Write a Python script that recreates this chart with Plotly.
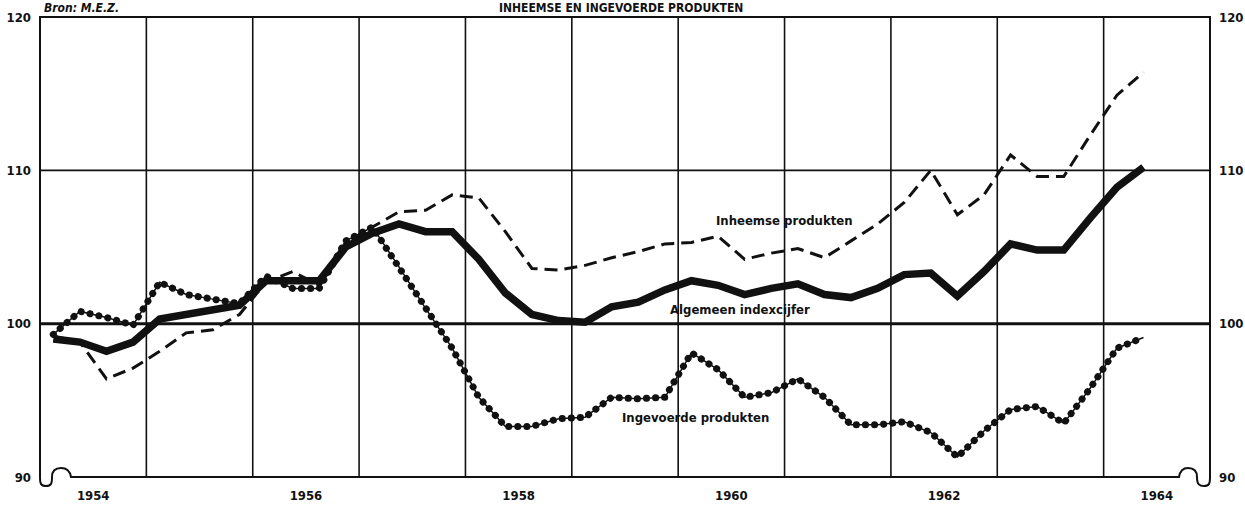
import plotly.graph_objects as go

# Quarterly index figures, 1954 Q1 - 1964 Q2
periods = [(y, q) for y in range(1954, 1965) for q in (1, 2, 3, 4)][:42]

algemeen = [99.0, 98.8, 98.2, 98.8,
            100.3, 100.6, 100.8, 101.2,
            102.8, 102.8, 102.8, 105.0,
            105.9, 106.5, 106.0, 106.0,
            104.2, 102.0, 100.6, 100.2,
            100.1, 101.1, 101.4, 102.2,
            102.8, 102.5, 101.9, 102.3,
            102.6, 101.9, 101.7, 102.3,
            103.2, 103.3, 101.8, 103.4,
            105.2, 104.8, 104.8, 106.9,
            108.9, 110.2]

inheemse = [99.2, 98.8, 96.4, 97.1,
            98.2, 99.4, 99.6, 100.6,
            102.7, 103.4, 102.5, 105.3,
            106.3, 107.3, 107.4, 108.4,
            108.2, 106.0, 103.6, 103.5,
            103.8, 104.3, 104.7, 105.2,
            105.3, 105.7, 104.2, 104.6,
            104.9, 104.3, 105.4, 106.5,
            107.9, 110.0, 107.1, 108.4,
            111.0, 109.6, 109.6, 112.3,
            114.9, 116.4]

ingevoerde = [99.3, 100.8, 100.4, 99.9,
              102.7, 101.9, 101.6, 101.3,
              103.1, 102.3, 102.3, 105.4,
              106.3, 103.7, 101.0, 98.4,
              95.2, 93.3, 93.3, 93.8,
              93.9, 95.2, 95.1, 95.2,
              98.1, 97.0, 95.2, 95.5,
              96.4, 95.2, 93.4, 93.4,
              93.6, 92.9, 91.3, 93.0,
              94.4, 94.6, 93.5, 95.8,
              98.4, 99.1]

year_labels = [1954, 1956, 1958, 1960, 1962, 1964]
grid_years = list(range(1955, 1965))
y_ticks = [90, 100, 110, 120]

# quarter midpoints on a continuous year axis
x = [y + (q - 0.5) / 4 for y, q in periods]

FONT = "Liberation Sans Narrow, DejaVu Sans Condensed, Roboto Condensed, Arial Narrow, sans-serif"
INK = "#111111"

W, H = 1245, 507
L, R, T, B = 40, 35, 17, 30
PW, PH = W - L - R, H - T - B


def px(xp):
    return (xp - L) / PW


def py(yp):
    return (H - B - yp) / PH


fig = go.Figure()

fig.add_trace(go.Scatter(x=x, y=algemeen, mode="lines",
                         line=dict(color=INK, width=7.5), hoverinfo="skip"))
fig.add_trace(go.Scatter(x=x, y=inheemse, mode="lines",
                         line=dict(color=INK, width=3, dash="13px,7px"), hoverinfo="skip"))
fig.add_trace(go.Scatter(x=x, y=ingevoerde, mode="lines",
                         line=dict(color=INK, width=1.5), hoverinfo="skip"))
# beaded overlay for the imported-goods line (dots rounded after render)
fig.add_trace(go.Scatter(x=x, y=ingevoerde, mode="lines",
                         line=dict(color=INK, width=7, dash="5px,4px"), hoverinfo="skip"))

shapes = []
# vertical year grid
for gy in grid_years:
    shapes.append(dict(type="line", xref="x", yref="paper", x0=gy, x1=gy, y0=0, y1=1,
                       line=dict(color=INK, width=1.6), layer="below"))
# horizontal grid
shapes.append(dict(type="line", xref="paper", yref="y", x0=0, x1=1, y0=110, y1=110,
                   line=dict(color=INK, width=1.6), layer="below"))
shapes.append(dict(type="line", xref="paper", yref="y", x0=0, x1=1, y0=100, y1=100,
                   line=dict(color=INK, width=3), layer="below"))


# frame with the broken-axis curls at both bottom corners
def P(a, b):
    return f"{px(a):.5f},{py(b):.5f}"


frame = (
    f"M{P(40, 17)} L{P(40, 477)} "
    f"C{P(40, 484)} {P(41, 486)} {P(46, 486)} "
    f"C{P(51, 486)} {P(52, 484)} {P(52, 477)} "
    f"C{P(52, 471)} {P(55, 468)} {P(61, 468)} "
    f"C{P(67, 468)} {P(70, 471)} {P(71, 477)} "
    f"L{P(1179, 477)} "
    f"C{P(1180, 471)} {P(1183, 468)} {P(1188, 468)} "
    f"C{P(1194, 468)} {P(1197, 471)} {P(1197, 477)} "
    f"C{P(1197, 484)} {P(1199, 486)} {P(1204, 486)} "
    f"C{P(1209, 486)} {P(1210, 484)} {P(1210, 477)} "
    f"L{P(1210, 17)} Z"
)
shapes.append(dict(type="path", xref="paper", yref="paper", path=frame,
                   line=dict(color=INK, width=2), layer="above"))

label_font = dict(family=FONT, size=13, color=INK, weight="bold")

annotations = [
    dict(text="Bron: M.E.Z.", xref="paper", yref="paper", x=px(42), y=1,
         xanchor="left", yanchor="bottom", yshift=0, showarrow=False,
         font=dict(family=FONT, size=12, color=INK, weight="bold", style="italic")),
    dict(text="INHEEMSE EN INGEVOERDE PRODUKTEN", xref="paper", yref="paper", x=px(621), y=1,
         xanchor="center", yanchor="bottom", yshift=0, showarrow=False,
         font=dict(family=FONT, size=12, color=INK, weight="bold")),
    dict(text="Inheemse produkten", x=1961.0, y=106.7, showarrow=False, font=label_font),
    dict(text="Algemeen indexcijfer", x=1960.58, y=100.9, showarrow=False, font=label_font),
    dict(text="Ingevoerde produkten", x=1960.16, y=93.9, showarrow=False, font=label_font),
]

tick_font = dict(family=FONT, size=13, color=INK, weight="bold")

fig.update_layout(
    width=W, height=H,
    margin=dict(l=L, r=R, t=T, b=B, autoexpand=False),
    paper_bgcolor="white", plot_bgcolor="white",
    showlegend=False,
    shapes=shapes,
    annotations=annotations,
    xaxis=dict(range=[1954, 1965], showgrid=False, zeroline=False, showline=False,
               tickvals=[yl + 0.5 for yl in year_labels],
               ticktext=[str(yl) for yl in year_labels],
               ticks="", tickfont=tick_font, ticklabelstandoff=9, automargin=False),
    yaxis=dict(range=[90, 120], showgrid=False, zeroline=False, showline=False,
               tickvals=y_ticks, ticks="", tickfont=tick_font, ticklabelstandoff=8,
               automargin=False),
    yaxis2=dict(range=[90, 120], overlaying="y", side="right", showgrid=False,
                zeroline=False, showline=False, tickvals=y_ticks, ticks="",
                tickfont=tick_font, ticklabelstandoff=8, automargin=False),
)
# invisible trace so the right-hand axis is drawn
fig.add_trace(go.Scatter(x=[x[0]], y=[algemeen[0]], yaxis="y2", mode="markers",
                         marker=dict(opacity=0), hoverinfo="skip"))

# turn the dashes of the beaded line into round dots
bead_js = """
var gd = document.getElementById('{plot_id}');
var traces = gd.querySelectorAll('.scatterlayer .trace');
if (traces.length > 3) {
  traces[3].querySelectorAll('path.js-line').forEach(function (p) {
    p.style.strokeLinecap = 'round';
    p.style.strokeDasharray = '0.1px,9px';
  });
}
"""

fig.write_html("out.html", post_script=bead_js)
